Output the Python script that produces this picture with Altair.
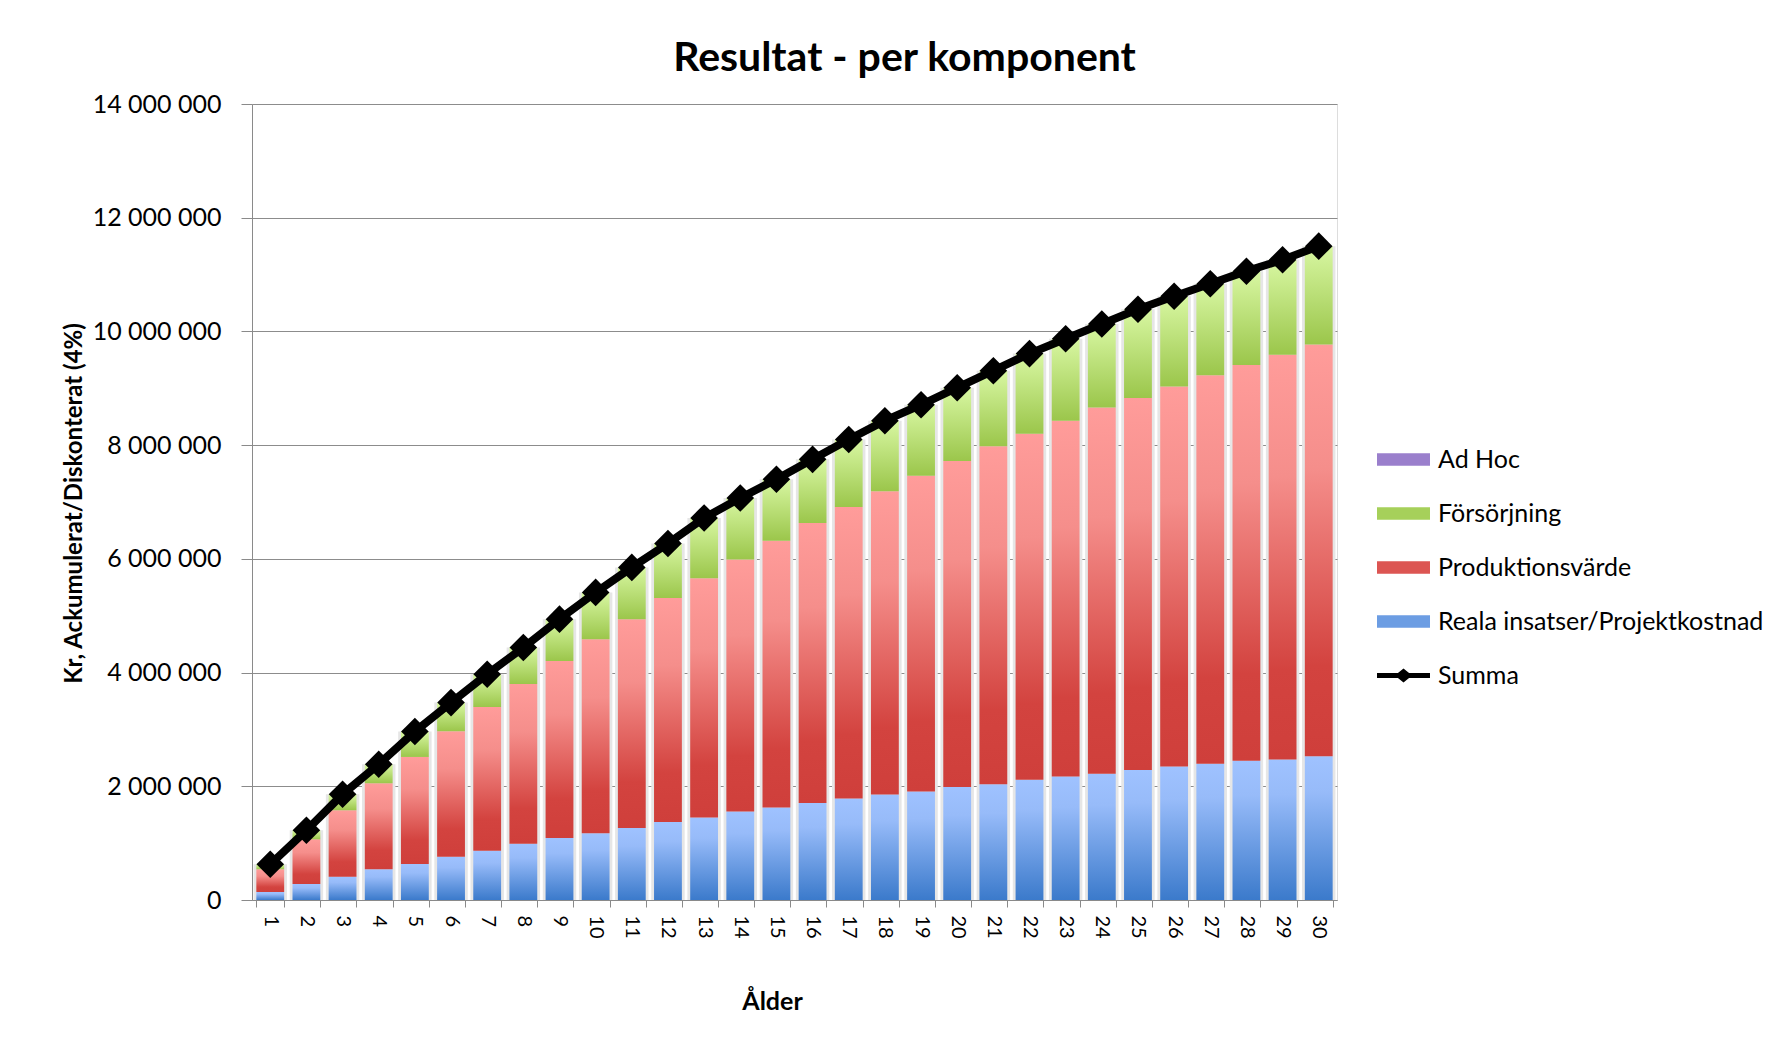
import altair as alt
import pandas as pd

# ---- data ----
ages = list(range(1, 31))
reala = [141000, 282000, 411000, 540000, 633000, 762000, 868000, 991000, 1091000, 1173000,
         1267000, 1372000, 1452000, 1557000, 1629000, 1707000, 1784000, 1856000, 1910000, 1988000,
         2036000, 2114000, 2174000, 2222000, 2287000, 2347000, 2395000, 2449000, 2473000, 2527000]
produktion = [399000, 785000, 1167000, 1513000, 1883000, 2206000, 2528000, 2809000, 3114000, 3413000,
              3673000, 3938000, 4208000, 4433000, 4691000, 4923000, 5126000, 5334000, 5550000, 5732000,
              5944000, 6086000, 6256000, 6438000, 6543000, 6683000, 6835000, 6961000, 7117000, 7243000]
forsorjning = [88000, 159000, 281000, 334000, 446000, 504000, 575000, 640000, 735000, 824000,
               910000, 960000, 1060000, 1080000, 1080000, 1120000, 1190000, 1240000, 1250000, 1290000,
               1330000, 1410000, 1440000, 1470000, 1560000, 1590000, 1610000, 1650000, 1670000, 1730000]
adhoc = [0] * 30
summa = [628000, 1226000, 1859000, 2387000, 2962000, 3472000, 3971000, 4440000, 4940000, 5410000,
         5850000, 6270000, 6720000, 7070000, 7400000, 7750000, 8100000, 8430000, 8710000, 9010000,
         9310000, 9610000, 9870000, 10130000, 10390000, 10620000, 10840000, 11060000, 11260000, 11500000]

series_names = ["Ad Hoc", "Försörjning", "Produktionsvärde", "Reala insatser/Projektkostnad", "Summa"]
series_colors = ["#9a7fcc", "#a6d05a", "#dc5552", "#6c9de3", "#000000"]
y_ticks = [0, 2000000, 4000000, 6000000, 8000000, 10000000, 12000000, 14000000]

df = pd.DataFrame({
    "Ålder": ages,
    "reala": reala,
    "produktion": produktion,
    "forsorjning": forsorjning,
    "adhoc": adhoc,
    "summa": summa,
})

FONT = "Lato"
W, H = 1085, 796

def vgrad(stops):
    return alt.Gradient(
        gradient="linear", x1=0, x2=0, y1=0, y2=1,
        stops=[alt.GradientStop(color=c, offset=o) for o, c in stops],
    )

blue_g = vgrad([(0, "#9fc2ff"), (0.25, "#97bbf9"), (1, "#3b7acb")])
red_g = vgrad([(0, "#ff9c9a"), (0.3, "#f58e8b"), (0.78, "#d3433f"), (1, "#cf3f3b")])
green_g = vgrad([(0, "#d8f7a2"), (1, "#9bc64b")])
purple_g = vgrad([(0, "#c3aee6"), (1, "#8064a8")])

x_enc = alt.X(
    "Ålder:O",
    sort=ages,
    scale=alt.Scale(paddingInner=0.23, paddingOuter=0.12),
    axis=alt.Axis(
        title="Ålder", tickBand="extent", labelAngle=90, labelAlign="left",
        labelBaseline="middle", labelFont=FONT, labelFontSize=20, labelColor="#000",
        labelPadding=8, tickSize=7, tickColor="#8a8a8a", domainColor="#8a8a8a",
        titleFont=FONT, titleFontSize=25, titleFontWeight="bold", titleColor="#000",
        titleX=520, titleY=101, titleAlign="center", titleBaseline="middle",
    ),
)
y_scale = alt.Scale(domain=[0, 14000000], nice=False)
y_axis = alt.Axis(
    title="Kr, Ackumulerat/Diskonterat (4%)", values=y_ticks,
    labelExpr="replace(format(datum.value, ','), regexp(',', 'g'), ' ')",
    labelFont=FONT, labelFontSize=25, labelColor="#000", labelPadding=20,
    tickSize=11, tickColor="#8a8a8a", domainColor="#8a8a8a",
    grid=True, gridColor="#8c8c8c", gridWidth=1,
    titleFont=FONT, titleFontSize=24, titleFontWeight="bold", titleColor="#000",
    titleX=-178, titleY=399, titleAngle=-90, titleAlign="center", titleBaseline="middle",
)

base = alt.Chart(df).transform_calculate(
    rp="datum.reala + datum.produktion",
    rpf="datum.reala + datum.produktion + datum.forsorjning",
    rpfa="datum.reala + datum.produktion + datum.forsorjning + datum.adhoc",
)

shadow = base.mark_bar(color="#e6e6e6", width=alt.RelativeBandSize(1.2)).encode(
    x=x_enc, y=alt.Y("rpfa:Q", scale=y_scale, axis=y_axis)
)
bars_blue = base.mark_bar(color=blue_g).encode(x=x_enc, y=alt.Y("reala:Q", scale=y_scale, axis=y_axis))
bars_red = base.mark_bar(color=red_g).encode(x=x_enc, y=alt.Y("rp:Q", scale=y_scale, axis=y_axis), y2="reala:Q")
bars_green = base.mark_bar(color=green_g).encode(x=x_enc, y=alt.Y("rpf:Q", scale=y_scale, axis=y_axis), y2="rp:Q")
bars_adhoc = base.mark_bar(color=purple_g).encode(x=x_enc, y=alt.Y("rpfa:Q", scale=y_scale, axis=y_axis), y2="rpf:Q")

line = base.mark_line(color="black", strokeWidth=8).encode(
    x=x_enc, y=alt.Y("summa:Q", scale=y_scale, axis=y_axis)
)
points = base.mark_point(shape="diamond", filled=True, color="black", size=760, opacity=1).encode(
    x=x_enc, y=alt.Y("summa:Q", scale=y_scale, axis=y_axis)
)

rect_path = "M-2,-0.47H2V0.47H-2Z"
line_path = "M-2,-0.18H-0.42L0,-0.52L0.42,-0.18H2V0.18H0.42L0,0.52L-0.42,0.18H-2Z"
legend_df = pd.DataFrame({"series": series_names})
legend_layer = alt.Chart(legend_df).transform_filter("false").mark_point(filled=True, opacity=1).encode(
    color=alt.Color(
        "series:N",
        scale=alt.Scale(domain=series_names, range=series_colors),
        legend=alt.Legend(
            title=None, orient="none", legendX=1138, legendY=342, padding=0,
            symbolSize=702, symbolStrokeWidth=0, symbolOpacity=1,
            labelFont=FONT, labelFontSize=25, labelColor="#000", labelOffset=21,
            rowPadding=27, labelLimit=500,
        ),
    ),
    shape=alt.Shape(
        "series:N",
        scale=alt.Scale(domain=series_names, range=[rect_path, rect_path, rect_path, rect_path, line_path]),
        legend=alt.Legend(title=None, orient="none", legendX=1138, legendY=342),
    ),
)

chart = alt.layer(
    shadow, bars_blue, bars_red, bars_green, bars_adhoc, line, points, legend_layer
).properties(
    width=W, height=H,
    title=alt.TitleParams(
        "Resultat - per komponent", font=FONT, fontSize=41, fontWeight="bold", color="#000",
        anchor="middle", frame="group", dx=110, offset=12,
    ),
    autosize=alt.AutoSizeParams(type="none"),
    padding={"left": 244, "top": 96, "right": 440, "bottom": 125},
).configure_view(stroke=None).configure(background="white")

chart.save("out.html", embed_options={"renderer": "svg", "actions": False})
